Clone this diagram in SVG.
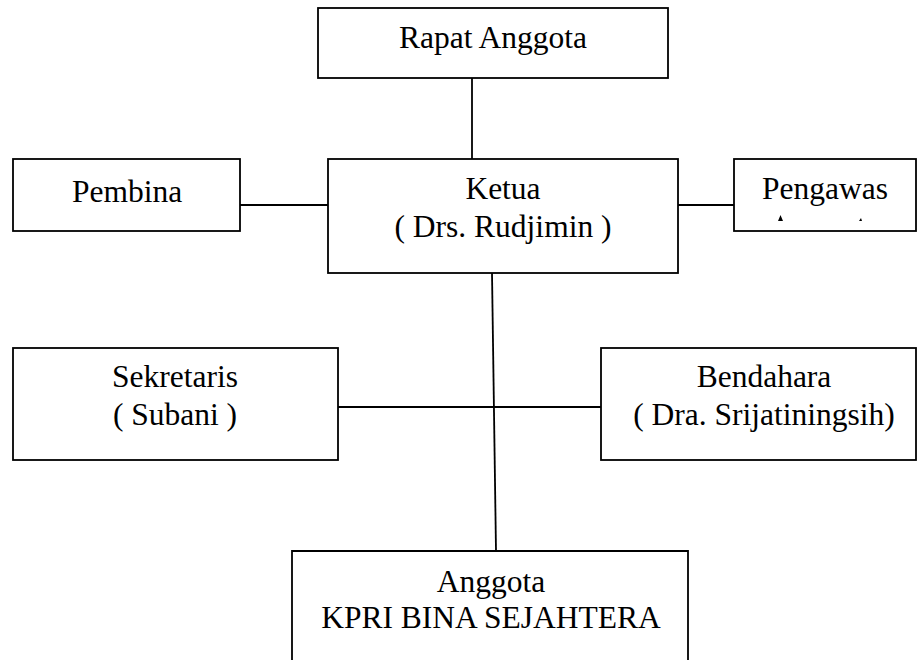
<svg xmlns="http://www.w3.org/2000/svg" width="919" height="660" viewBox="0 0 919 660">
<style>
.box{fill:#fff;stroke:#000;stroke-width:1.8}
.ln{stroke:#000;stroke-width:1.8;fill:none}
.t{font-family:"Liberation Serif","Times New Roman",serif;font-size:31.5px;fill:#000;text-anchor:middle}
</style>
<rect width="919" height="660" fill="#fff"/>
<g id="connectors">
<line class="ln" x1="472" y1="78" x2="472" y2="159"/>
<line class="ln" x1="240" y1="205" x2="328" y2="205"/>
<line class="ln" x1="678" y1="205" x2="734" y2="205"/>
<line class="ln" x1="492" y1="273" x2="496" y2="551"/>
<line class="ln" x1="338" y1="407" x2="601" y2="407"/>
</g>
<g id="rapat">
<rect class="box" x="318" y="8" width="350" height="70"/>
<text class="t" x="493" y="48">Rapat Anggota</text>
</g>
<g id="pembina">
<rect class="box" x="13" y="159" width="227" height="72"/>
<text class="t" x="127" y="202">Pembina</text>
</g>
<g id="ketua">
<rect class="box" x="328" y="159" width="350" height="114"/>
<text class="t" x="503" y="199">Ketua</text>
<text class="t" x="503" y="237">( Drs. Rudjimin )</text>
</g>
<g id="pengawas">
<rect class="box" x="734" y="159" width="182" height="72"/>
<text class="t" x="825" y="199">Pengawas</text>
<path d="M778,221 L780.5,215 L783,221 Z M859,221 L861,218 L862,221 Z" fill="#000"/>
</g>
<g id="sekretaris">
<rect class="box" x="13" y="348" width="325" height="112"/>
<text class="t" x="175" y="387">Sekretaris</text>
<text class="t" x="175" y="425">( Subani )</text>
</g>
<g id="bendahara">
<rect class="box" x="601" y="348" width="315" height="112"/>
<text class="t" x="764" y="387">Bendahara</text>
<text class="t" x="764" y="425">( Dra. Srijatiningsih)</text>
</g>
<g id="anggota">
<path class="box" d="M292,662 L292,551 L688,551 L688,662"/>
<text class="t" x="491" y="592">Anggota</text>
<text class="t" x="491" y="628">KPRI BINA SEJAHTERA</text>
</g>
</svg>
